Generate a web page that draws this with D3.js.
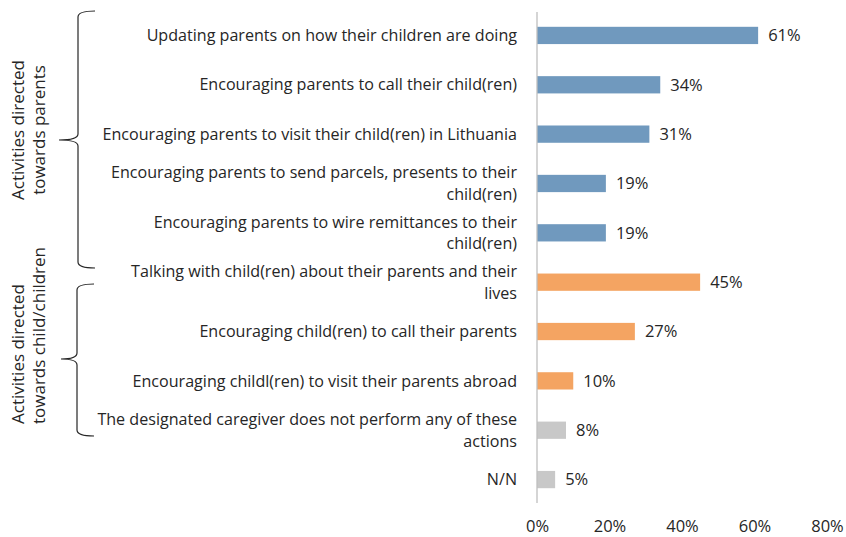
<!DOCTYPE html>
<html><head><meta charset="utf-8">
<script src="https://cdn.jsdelivr.net/npm/d3@7"></script>
<style>body{margin:0;background:#fff;} svg{display:block;} text{font-family:"Open Sans", sans-serif;fill:#262626;}</style>
</head><body><svg id="c" width="846" height="537"></svg>
<script>
const categories = [
  ["Updating parents on how their children are doing"],
  ["Encouraging parents to call their child(ren)"],
  ["Encouraging parents to visit their child(ren) in Lithuania"],
  ["Encouraging parents to send parcels, presents to their","child(ren)"],
  ["Encouraging parents to wire remittances to their","child(ren)"],
  ["Talking with child(ren) about their parents and their","lives"],
  ["Encouraging child(ren) to call their parents"],
  ["Encouraging childl(ren) to visit their parents abroad"],
  ["The designated caregiver does not perform any of these","actions"],
  ["N/N"]
];
const values = [61,34,31,19,19,45,27,10,8,5];
const groups = ["parents","parents","parents","parents","parents","child","child","child","none","none"];
const ticks = [0,20,40,60,80];
const groupColors = {parents:"#7099BE", child:"#F4A462", none:"#C8C8C8"};

const svg = d3.select("#c");
const pLeft = 537, pRight = 827, pTop = 12, pBottom = 503;
const x = d3.scaleLinear().domain([0,80]).range([pLeft,pRight]);
const y = d3.scaleBand().domain(d3.range(categories.length)).range([pTop,pBottom]).paddingInner(0.65).paddingOuter(0.3);

svg.selectAll("rect.bar").data(values).join("rect")
  .attr("x", x(0)).attr("y",(d,i)=>y(i)).attr("width",d=>x(d)-x(0)).attr("height",y.bandwidth())
  .attr("fill",(d,i)=>groupColors[groups[i]]);

svg.append("line").attr("x1",x(0)).attr("x2",x(0)).attr("y1",pTop).attr("y2",pBottom).attr("stroke","#BFBFBF").attr("stroke-width",1.3);

svg.selectAll("text.val").data(values).join("text")
  .attr("x",d=>x(d)+10).attr("y",(d,i)=>y(i)+y.bandwidth()/2).attr("dy","0.35em")
  .attr("font-size",16.5).text(d=>d+"%");

categories.forEach((lines,i)=>{
  const cy = y(i)+y.bandwidth()/2;
  const lh = 21.5;
  const t = svg.append("text").attr("text-anchor","end").attr("font-size",16.1);
  lines.forEach((s,j)=>{
    t.append("tspan").attr("x",517).attr("y",cy + (j-(lines.length-1)/2)*lh).attr("dy","0.35em").text(s);
  });
});

const axis = d3.axisBottom(x).tickValues(ticks).tickFormat(d=>d+"%").tickSize(0).tickPadding(0);
const ag = svg.append("g").attr("transform",`translate(0,${pBottom+17})`).call(axis);
ag.select(".domain").remove();
ag.selectAll("text").attr("font-size",16.5).attr("dy","0.71em").style("font-family","'Open Sans', sans-serif").attr("fill","#262626");

function brace(y0,y1,ym,xv,xt,xe){
  const r=6;
  const p = `M${xe},${y0} Q${xv},${y0} ${xv},${y0+r} L${xv},${ym-r} Q${xv},${ym} ${xt},${ym} Q${xv},${ym} ${xv},${ym+r} L${xv},${y1-r} Q${xv},${y1} ${xe},${y1}`;
  svg.append("path").attr("d",p).attr("fill","none").attr("stroke","#262626").attr("stroke-width",1.2);
}
brace(11,268,140,78,59,95);
brace(284,436,359,77,61,94);

const g1 = svg.append("text").attr("transform","translate(0,130) rotate(-90)").attr("text-anchor","middle").attr("font-size",17);
g1.append("tspan").attr("x",0).attr("y",24).text("Activities directed");
g1.append("tspan").attr("x",0).attr("y",45).text("towards parents");
const g2 = svg.append("text").attr("transform","translate(0,424) rotate(-90)").attr("text-anchor","start").attr("font-size",17);
g2.append("tspan").attr("x",0).attr("y",24).text("Activities directed");
g2.append("tspan").attr("x",0).attr("y",45).text("towards child/children");
</script></body></html>
